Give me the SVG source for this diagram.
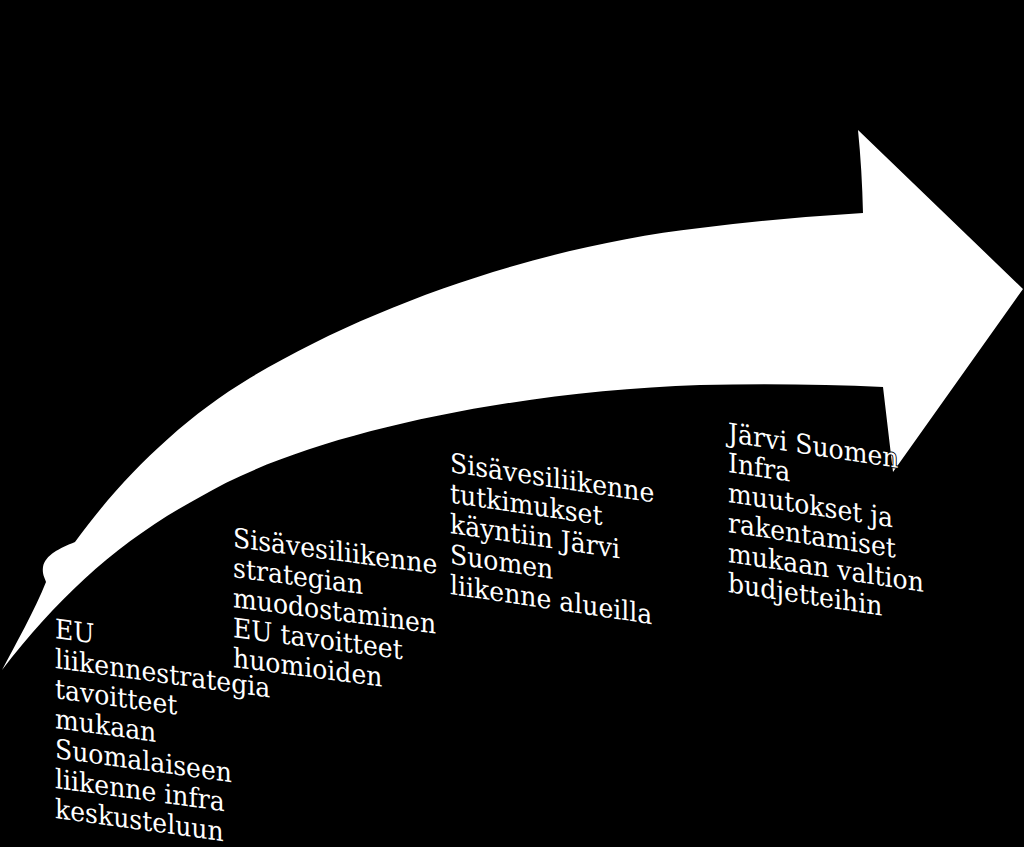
<svg xmlns="http://www.w3.org/2000/svg" width="1024" height="847" viewBox="0 0 1024 847">
<style>
.t{font-family:"DejaVu Serif","Liberation Serif",serif;font-size:27px;fill:#fff;stroke:#000;stroke-width:2;paint-order:stroke;stroke-linejoin:round}
</style>
<rect x="0" y="0" width="1024" height="847" fill="#000"/>
<g id="connectors">
<path id="arrow" fill="#fff" d="M2,670 C60,595 120,540 200,497 C300,437 500,392 700,385 Q800,383 883,387 L893,472 L1023,289 L858,130 Q862,170 863,213 Q780,218 700,228 C550,245 380,300 250,378 C180,420 120,480 75,542 C60,548 45,555 43,567 C42,575 45,578 46,582 C35,610 15,645 2,670 Z"/>
</g>
<g id="node1" transform="translate(55,638) skewY(7.8) scale(0.93,1)">
<text class="t"><tspan x="0" y="0">EU</tspan><tspan x="0" y="30">liikennestrategia</tspan><tspan x="0" y="60">tavoitteet</tspan><tspan x="0" y="90">mukaan</tspan><tspan x="0" y="120">Suomalaiseen</tspan><tspan x="0" y="150">liikenne infra</tspan><tspan x="0" y="180">keskusteluun</tspan></text>
</g>
<g id="node2" transform="translate(233,547) skewY(7.5) scale(0.93,1)">
<text class="t"><tspan x="0" y="0">Sisävesiliikenne</tspan><tspan x="0" y="30">strategian</tspan><tspan x="0" y="60">muodostaminen</tspan><tspan x="0" y="90">EU tavoitteet</tspan><tspan x="0" y="120">huomioiden</tspan></text>
</g>
<g id="node3" transform="translate(450,472) skewY(8.5) scale(0.93,1)">
<text class="t"><tspan x="0" y="0">Sisävesiliikenne</tspan><tspan x="0" y="30.5">tutkimukset</tspan><tspan x="0" y="61">käyntiin Järvi</tspan><tspan x="0" y="91.5">Suomen</tspan><tspan x="0" y="122">liikenne alueilla</tspan></text>
</g>
<g id="node4" transform="translate(728,442) skewY(8.7) scale(0.93,1)">
<text class="t"><tspan x="0" y="0">Järvi Suomen</tspan><tspan x="0" y="30">Infra</tspan><tspan x="0" y="60">muutokset ja</tspan><tspan x="0" y="90">rakentamiset</tspan><tspan x="0" y="120">mukaan valtion</tspan><tspan x="0" y="150">budjetteihin</tspan></text>
</g>
</svg>
